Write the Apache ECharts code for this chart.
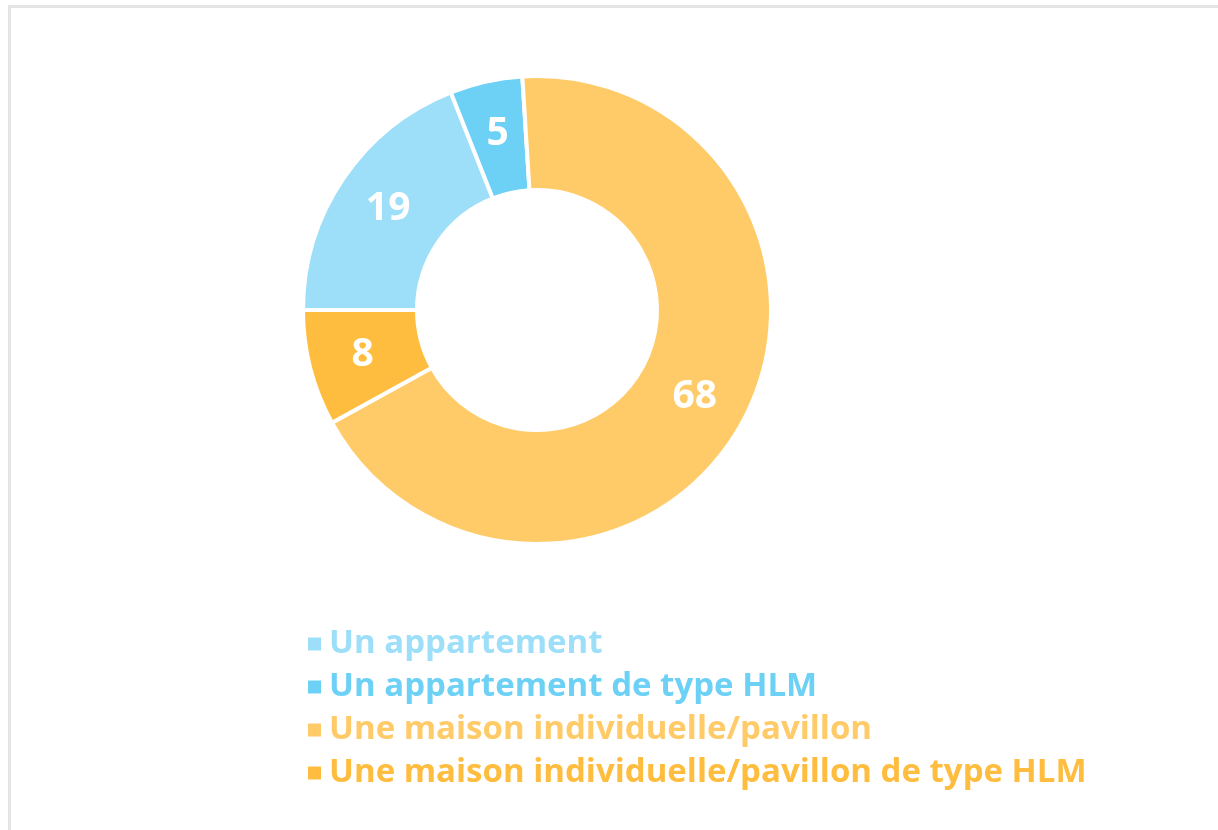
<!DOCTYPE html>
<html>
<head>
<meta charset="utf-8">
<script src="https://cdn.jsdelivr.net/npm/echarts@6/dist/echarts.min.js"></script>
<style>
  html, body { margin: 0; padding: 0; background: #fff; }
  #frame { position: absolute; left: 8px; top: 5px; width: 1210px; height: 825px;
           border-top: 3px solid #e4e4e4; border-left: 3px solid #e4e4e4; }
  #pieChart { position: absolute; left: 0; top: 0; width: 1218px; height: 830px; }
</style>
</head>
<body>
<div id="frame"></div>
<div id="pieChart"></div>
<script>
// logement
var categories = ['Un appartement', 'Un appartement de type HLM',
                  'Une maison individuelle/pavillon', 'Une maison individuelle/pavillon de type HLM'];
var values = [19, 5, 68, 8];
var colors = ['#9ddff8', '#6dd1f6', '#ffcb69', '#ffbd3f'];

var pieChart = echarts.init(document.getElementById('pieChart'));

var pieData = [];
for (var i = 0; i < categories.length; i++) {
    pieData.push({ name: categories[i], value: values[i] });
}

pieChart.setOption({
    color: colors,
    legend: {
        orient: 'vertical',
        left: 301,
        top: 621,
        itemWidth: 15,
        itemHeight: 15,
        itemGap: 7,
        icon: 'rect',
        data: categories.map(function (c, i) {
            return { name: c, textStyle: { color: colors[i] } };
        }),
        textStyle: {
            fontFamily: 'Open Sans',
            fontWeight: 'bold',
            fontSize: 33,
            lineHeight: 36,
            padding: [0, 0, 0, 2]
        }
    },
    series: [
        {
            name: 'Logement',
            type: 'pie',
            center: [537, 310],
            radius: [120, 234],
            startAngle: 180,
            clockwise: true,
            avoidLabelOverlap: false,
            itemStyle: {
                borderColor: '#fff',
                borderWidth: 4
            },
            label: {
                show: true,
                position: 'inside',
                formatter: '{c}',
                color: '#fff',
                fontFamily: 'Open Sans',
                fontWeight: 'bold',
                fontSize: 39
            },
            labelLine: { show: false },
            emphasis: { scale: false },
            data: pieData
        }
    ]
});
</script>
</body>
</html>
